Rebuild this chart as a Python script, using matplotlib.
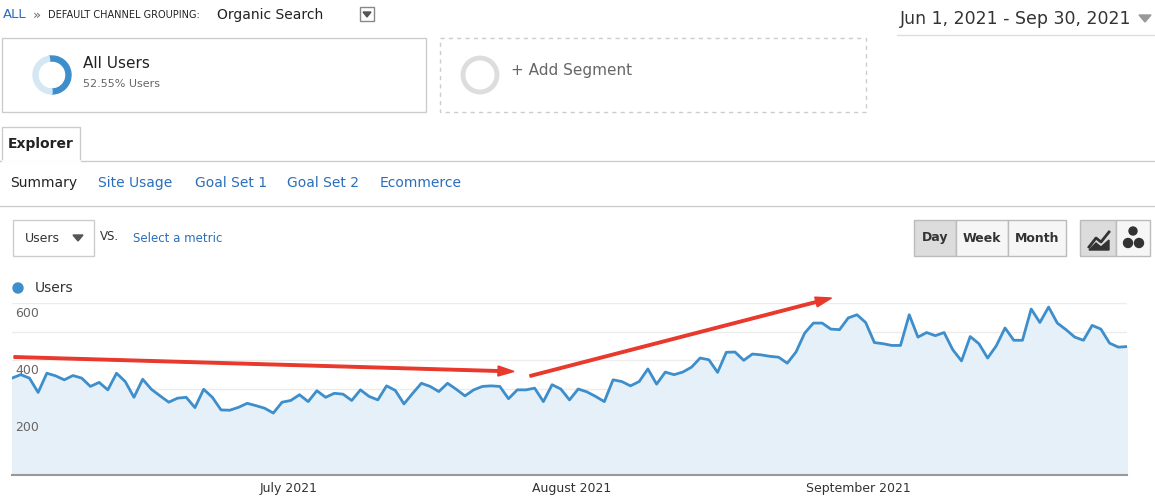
import matplotlib
matplotlib.use('Agg')
import matplotlib.pyplot as plt
from matplotlib.patches import Rectangle, Wedge, Circle, Polygon, FancyArrow
import numpy as np

# ── Data ──────────────────────────────────────────────────────────────────────
users = [338, 350, 338, 288, 355, 346, 332, 347, 338, 309, 323, 297, 355, 326,
         271, 334, 299, 276, 254, 268, 271, 235, 299, 271, 227, 226, 236, 250,
         242, 233, 216, 254, 260, 280, 256, 294, 271, 285, 282, 260, 297, 274,
         262, 311, 295, 248, 285, 320, 309, 291, 320, 299, 276, 297, 309, 311,
         309, 266, 297, 297, 303, 256, 315, 300, 262, 300, 290, 274, 256, 332,
         326, 311, 326, 370, 317, 359, 350, 359, 376, 408, 402, 358, 428, 429,
         400, 422, 419, 414, 411, 390, 429, 495, 530, 530, 509, 507, 548, 559,
         532, 462, 458, 452, 452, 559, 481, 497, 486, 497, 437, 398, 483, 458,
         408, 451, 513, 470, 470, 579, 532, 586, 530, 507, 481, 470, 522, 509,
         460, 446, 448]
month_labels = ['July 2021', 'August 2021', 'September 2021']
month_frac = [0.248, 0.502, 0.759]   # label centres as fraction of the x range
y_ticks = [200, 400, 600]

BLUE = '#3d8ecb'
LINK = '#2a6ebb'
GREY = '#666666'

fig = plt.figure(figsize=(11.55, 5), dpi=100)
fig.patch.set_facecolor('white')

# ── Chart ─────────────────────────────────────────────────────────────────────
ax = fig.add_axes([12/1155, 25/500, 1115/1155, 172/500])
x = np.arange(len(users))
ax.fill_between(x, users, 0, color='#e5f0f8', zorder=1)
ax.plot(x, users, color=BLUE, lw=2, zorder=3)
ax.set_xlim(0, len(users) - 1)
ax.set_ylim(0, 600)
ax.set_yticks(np.arange(0, 601, 100))
ax.yaxis.grid(True, color='#ececec', lw=1)
ax.set_axisbelow(True)
ax.tick_params(left=False, bottom=False, labelleft=False, labelbottom=False)
for s in ['top', 'left', 'right']:
    ax.spines[s].set_visible(False)
ax.spines['bottom'].set_color('#999999')
ax.spines['bottom'].set_linewidth(1.5)
for v in y_ticks:
    ax.text(0.003, v - 35, str(v), transform=ax.get_yaxis_transform(),
            fontsize=9, color=GREY, va='center', ha='left', zorder=5)
for lab, f in zip(month_labels, month_frac):
    ax.text(f, -0.04, lab, transform=ax.transAxes, fontsize=9,
            color='#333333', ha='center', va='top')

# ── Overlay in pixel coordinates for the UI chrome ───────────────────────────
ov = fig.add_axes([0, 0, 1, 1], zorder=10)
ov.set_xlim(0, 1155)
ov.set_ylim(500, 0)
ov.axis('off')
ov.patch.set_alpha(0)

# breadcrumb
ov.text(3, 15, 'ALL', color=LINK, fontsize=9.5, va='center')
ov.text(33, 15, '»', color=GREY, fontsize=9.5, va='center')
ov.text(48, 15, 'DEFAULT CHANNEL GROUPING:', color='#222222', fontsize=7, va='center')
ov.text(217, 15, 'Organic Search', color='#222222', fontsize=10, va='center')
ov.add_patch(Rectangle((360, 7), 14, 14, fill=False, ec='#888888', lw=1))
ov.add_patch(Polygon([[363, 12], [371, 12], [367, 17]], color='#555555'))

# date range
ov.text(900, 19, 'Jun 1, 2021 - Sep 30, 2021', color='#333333', fontsize=12.5, va='center')
ov.add_patch(Polygon([[1139, 15], [1151, 15], [1145, 22]], color='#999999'))
ov.plot([897, 1155], [35, 35], color='#dddddd', lw=1)

# segment boxes
ov.add_patch(Rectangle((2, 38), 424, 74, fill=False, ec='#cccccc', lw=1))
ov.add_patch(Wedge((52, 75), 19, 90 - 360*0.5255, 90, width=5, color='#3d8ecb'))
ov.add_patch(Wedge((52, 75), 19, 90, 90 + 360*(1 - 0.5255), width=5, color='#d6e7f4'))
ov.text(83, 64, 'All Users', color='#222222', fontsize=11, va='center')
ov.text(83, 84, '52.55% Users', color=GREY, fontsize=8, va='center')
ov.add_patch(Rectangle((440, 38), 426, 74, fill=False, ec='#cccccc', lw=1, ls=(0, (3, 3))))
ov.add_patch(Circle((480, 75), 17, fill=False, ec='#dddddd', lw=3.5))
ov.text(511, 71, '+ Add Segment', color=GREY, fontsize=11, va='center')

# explorer tab
ov.plot([0, 1155], [161, 161], color='#cccccc', lw=1)
ov.add_patch(Rectangle((2, 127), 78, 34, fc='white', ec='#cccccc', lw=1))
ov.plot([3, 79], [161, 161], color='white', lw=2)
ov.text(41, 144, 'Explorer', color='#222222', fontsize=10, fontweight='bold',
        ha='center', va='center')

# sub tabs
ov.text(10, 183, 'Summary', color='#222222', fontsize=10, va='center')
for lab, xx in zip(['Site Usage', 'Goal Set 1', 'Goal Set 2', 'Ecommerce'],
                   [98, 195, 287, 380]):
    ov.text(xx, 183, lab, color=LINK, fontsize=10, va='center')
ov.plot([0, 1155], [206, 206], color='#cccccc', lw=1)

# metric selector
ov.add_patch(Rectangle((13, 220), 81, 36, fc='white', ec='#cccccc', lw=1))
ov.text(25, 238, 'Users', color='#333333', fontsize=9, va='center')
ov.add_patch(Polygon([[73, 235], [83, 235], [78, 241]], color='#555555'))
ov.text(100, 237, 'VS.', color='#333333', fontsize=8.5, va='center')
ov.text(133, 238, 'Select a metric', color=LINK, fontsize=8.5, va='center')

# day / week / month
ov.add_patch(Rectangle((914, 220), 42, 36, fc='#dcdcdc', ec='#bbbbbb', lw=1))
ov.add_patch(Rectangle((956, 220), 52, 36, fc='#f6f6f6', ec='#bbbbbb', lw=1))
ov.add_patch(Rectangle((1008, 220), 58, 36, fc='#f6f6f6', ec='#bbbbbb', lw=1))
for lab, xx in zip(['Day', 'Week', 'Month'], [935, 982, 1037]):
    ov.text(xx, 238, lab, color='#333333', fontsize=9, fontweight='bold',
            ha='center', va='center')
ov.add_patch(Rectangle((1080, 220), 36, 36, fc='#dcdcdc', ec='#bbbbbb', lw=1))
ov.add_patch(Rectangle((1116, 220), 34, 36, fc='#f6f6f6', ec='#bbbbbb', lw=1))
ov.plot([1089, 1096, 1101, 1109], [247, 238, 242, 232], color='#333333', lw=2)
ov.add_patch(Polygon([[1089, 250], [1096, 243], [1101, 247], [1109, 240], [1109, 250]],
                     color='#333333'))
for cx, cy, r in [(1133, 231, 4), (1128, 243, 4.5), (1139, 243, 4.5)]:
    ov.add_patch(Circle((cx, cy), r, color='#333333'))

# legend
ov.add_patch(Circle((18, 288), 5, color=BLUE))
ov.text(35, 288, 'Users', color='#333333', fontsize=10, va='center')

# red arrows
ov.add_patch(FancyArrow(14, 357, 484, 14, width=2.5, head_width=10, head_length=16,
                        length_includes_head=False, color='#e8392c', zorder=20))
ov.add_patch(FancyArrow(530, 376, 286, -74, width=2.5, head_width=10, head_length=16,
                        length_includes_head=False, color='#e8392c', zorder=20))

fig.savefig('out.png', dpi=100, facecolor='white')
